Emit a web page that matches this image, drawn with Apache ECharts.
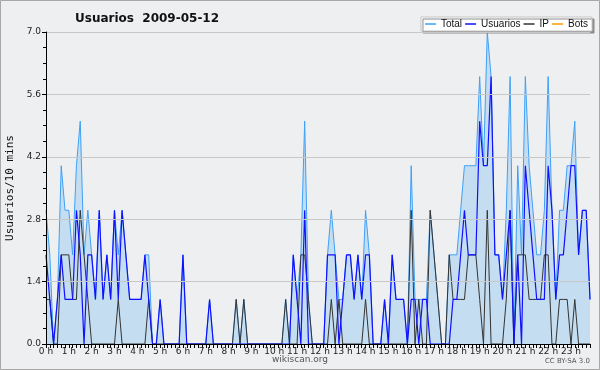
<!DOCTYPE html>
<html>
<head>
<meta charset="utf-8">
<script src="https://cdn.jsdelivr.net/npm/echarts@6/dist/echarts.min.js"></script>
<style>
html,body{margin:0;padding:0;background:#fff;}
#c{width:600px;height:370px;}
</style>
</head>
<body>
<div id="c"></div>
<script>
// 10-minute slots, 0:00 .. 23:50
var hourLabels = ['0 h','1 h','2 h','3 h','4 h','5 h','6 h','7 h','8 h','9 h','10 h','11 h',
  '12 h','13 h','14 h','15 h','16 h','17 h','18 h','19 h','20 h','21 h','22 h','23 h'];
var yTicks = [0, 1.4, 2.8, 4.2, 5.6, 7.0];

var totalVals = [
  3,2,0,1,4,3, 3,2,4,5,2,3, 2,1,3,1,2,1, 3,2,3,2,1,1,
  1,1,2,2,0,0, 1,0,0,0,0,0, 2,0,0,0,0,0, 0,1,0,0,0,0,
  0,0,1,0,1,0, 0,0,0,0,0,0, 0,0,0,1,0,2, 1,2,5,1,0,0,
  0,0,2,3,2,1, 1,2,2,1,2,1, 3,2,0,0,0,1, 0,2,1,1,1,0,
  4,1,1,1,1,3, 2,1,0,0,2,2, 2,3,4,4,4,4, 6,4,7,6,2,2,
  1,3,6,0,4,2, 6,4,3,2,2,3, 6,3,1,3,3,4, 4,5,2,3,3,1
];
var usuariosVals = [
  2,1,0,1,2,1, 1,1,3,2,0,2, 2,1,3,1,2,1, 3,1,3,2,1,1,
  1,1,2,1,0,0, 1,0,0,0,0,0, 2,0,0,0,0,0, 0,1,0,0,0,0,
  0,0,0,0,0,0, 0,0,0,0,0,0, 0,0,0,0,0,2, 1,0,3,0,0,0,
  0,0,2,2,2,0, 1,2,2,1,2,1, 2,2,0,0,0,1, 0,2,1,1,1,0,
  1,1,0,1,1,0, 0,0,0,0,0,1, 1,2,3,2,2,2, 5,4,4,6,2,2,
  1,2,3,0,2,0, 4,3,2,1,1,1, 4,3,1,2,2,3, 4,4,2,3,3,1
];
var ipVals = [
  1,1,0,0,2,2, 2,1,1,3,2,1, 0,0,0,0,0,0, 0,1,0,0,0,0,
  0,0,0,1,0,0, 0,0,0,0,0,0, 0,0,0,0,0,0, 0,0,0,0,0,0,
  0,0,1,0,1,0, 0,0,0,0,0,0, 0,0,0,1,0,0, 0,2,2,1,0,0,
  0,0,0,1,0,1, 0,0,0,0,0,0, 1,0,0,0,0,0, 0,0,0,0,0,0,
  3,0,1,0,0,3, 2,1,0,0,2,1, 1,1,1,2,2,2, 1,0,3,0,0,0,
  0,1,3,0,2,2, 2,1,1,1,1,2, 2,0,0,1,1,1, 0,1,0,0,0,0
];
var botsVals = [
  0,0,0,0,0,0, 0,0,0,0,0,0, 0,0,0,0,0,0, 0,0,0,0,0,0,
  0,0,0,0,0,0, 0,0,0,0,0,0, 0,0,0,0,0,0, 0,0,0,0,0,0,
  0,0,0,0,0,0, 0,0,0,0,0,0, 0,0,0,0,0,0, 0,0,0,0,0,0,
  0,0,0,0,0,0, 0,0,0,0,0,0, 0,0,0,0,0,0, 0,0,0,0,0,0,
  0,0,0,0,0,0, 0,0,0,0,0,0, 0,0,0,0,0,0, 0,0,0,0,0,0,
  0,0,0,0,0,0, 0,0,0,0,0,0, 0,0,0,0,0,0, 0,0,0,0,0,0
];

var categories = [];
for (var h = 0; h < 24; h++) {
  for (var m = 0; m < 6; m++) {
    categories.push(h + ':' + (m === 0 ? '00' : m * 10));
  }
}

var chart = echarts.init(document.getElementById('c'), null, {renderer: 'canvas'});
var font = 'DejaVu Sans';
chart.setOption({
  animation: false,
  backgroundColor: '#eeeff0',
  title: {
    text: 'Usuarios  2009-05-12',
    left: 70, top: 8,
    textStyle: {fontFamily: font, fontSize: 12, fontWeight: 'bold', color: '#111'}
  },
  legend: {
    data: ['Total', 'Usuarios', 'IP', 'Bots'],
    right: 8, top: 17,
    padding: [2, 4, 2, 4],
    itemGap: 3,
    icon: 'rect',
    itemWidth: 11, itemHeight: 1.5,
    backgroundColor: '#ffffff',
    borderColor: '#c4c4c4', borderWidth: 1,
    shadowColor: '#8c8c8c', shadowBlur: 0, shadowOffsetX: 2, shadowOffsetY: 2,
    textStyle: {fontFamily: 'Liberation Sans', fontSize: 10, color: '#111'}
  },
  grid: {left: 46, right: 10, top: 32, bottom: 26, containLabel: false, outerBoundsMode: 'none'},
  xAxis: {
    type: 'category',
    data: categories,
    boundaryGap: false,
    z: 5,
    axisLine: {lineStyle: {color: '#000', width: 1}},
    axisTick: {show: true, interval: 0, length: 4, lineStyle: {color: '#000'}},
    axisLabel: {
      interval: 5, margin: 3,
      fontFamily: font, fontSize: 9, color: '#222',
      formatter: function (v, i) { return hourLabels[Math.floor(i / 6)]; }
    },
    splitLine: {show: false}
  },
  yAxis: {
    type: 'value',
    min: 0, max: 7, interval: 1.4,
    z: 5,
    name: 'Usuarios/10 mins',
    nameLocation: 'middle', nameGap: 29.5, nameRotate: 90,
    nameTextStyle: {fontFamily: 'DejaVu Sans Mono', fontSize: 11, color: '#111'},
    axisLine: {show: true, lineStyle: {color: '#000', width: 1}},
    axisTick: {show: true, length: 4, lineStyle: {color: '#000'}},
    minorTick: {show: true, splitNumber: 4, length: 3, lineStyle: {color: '#000'}},
    axisLabel: {
      margin: 5, fontFamily: font, fontSize: 9, color: '#222',
      formatter: function (v) { return v.toFixed(1); }
    },
    splitLine: {show: true, lineStyle: {color: '#c8c8c8', width: 1}}
  },
  series: [
    {
      name: 'Total', type: 'line', data: totalVals, symbol: 'none', z: 1,
      lineStyle: {color: '#3ea0f7', width: 1},
      itemStyle: {color: '#3ea0f7'},
      areaStyle: {color: '#c5ddf0', opacity: 1}
    },
    {
      name: 'Usuarios', type: 'line', data: usuariosVals, symbol: 'none', z: 3,
      lineStyle: {color: '#1010ff', width: 1.2},
      itemStyle: {color: '#1010ff'}
    },
    {
      name: 'IP', type: 'line', data: ipVals, symbol: 'none', z: 2,
      lineStyle: {color: '#333333', width: 1},
      itemStyle: {color: '#333333'}
    },
    {
      name: 'Bots', type: 'line', data: botsVals, symbol: 'none', z: 0,
      lineStyle: {color: '#ff9900', width: 1},
      itemStyle: {color: '#ff9900'}
    }
  ],
  graphic: [
    {type: 'text', left: 'center', top: 355,
     style: {text: 'wikiscan.org', font: '9px "DejaVu Sans"', fill: '#555'}},
    {type: 'text', right: 10, top: 358,
     style: {text: 'CC BY-SA 3.0', font: '7px "DejaVu Sans"', fill: '#555'}},
    {type: 'rect', shape: {x: 0.5, y: 0.5, width: 599, height: 369},
     style: {fill: 'none', stroke: '#a8a8a8', lineWidth: 1}, silent: true}
  ]
});
</script>
</body>
</html>
